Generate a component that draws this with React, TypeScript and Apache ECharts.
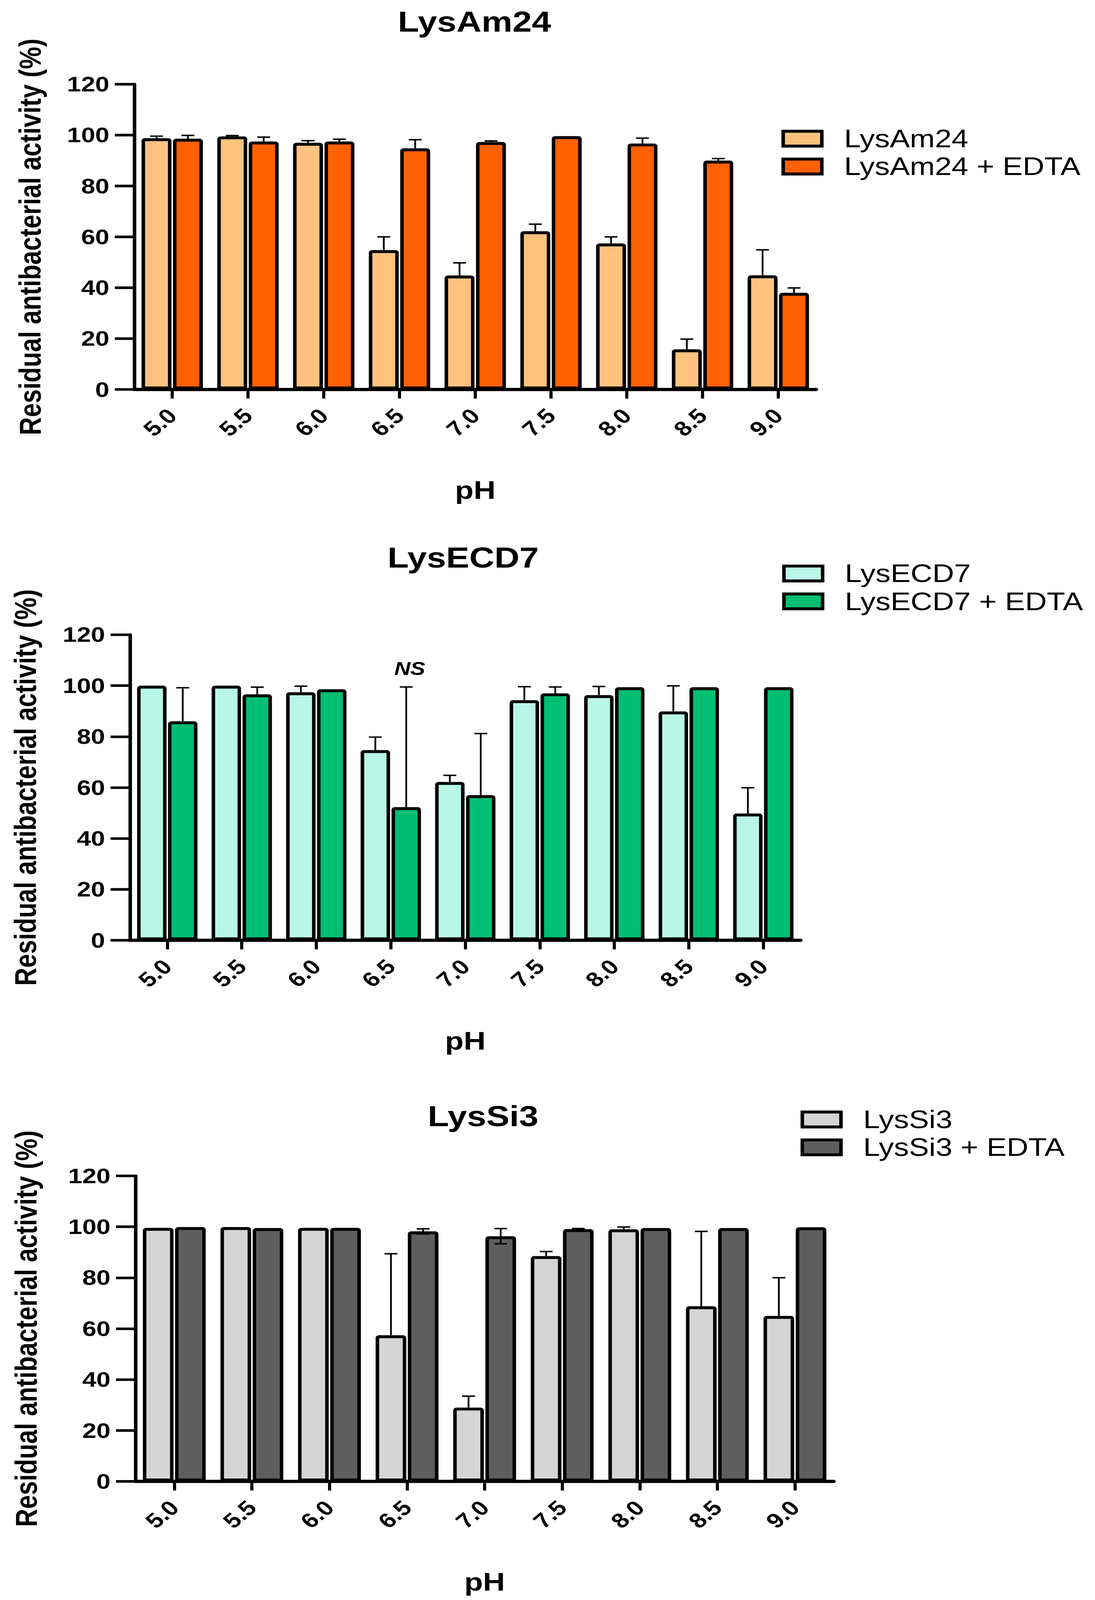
import React, { useEffect, useRef } from 'react';
import * as echarts from 'echarts';

// ---------- data ----------
const categories = ['5.0', '5.5', '6.0', '6.5', '7.0', '7.5', '8.0', '8.5', '9.0'];

const lysAm24 = [98.8, 99.5, 97.0, 54.8, 44.8, 62.2, 57.4, 15.8, 44.9];
const lysAm24Err = [0.8, 0.3, 0.8, 5.2, 5.0, 2.8, 2.6, 4.0, 10.0];
const lysAm24Edta = [98.6, 97.5, 97.5, 94.8, 97.3, 99.6, 96.7, 90.0, 38.0];
const lysAm24EdtaErr = [1.3, 1.7, 0.9, 3.4, 0.4, 0, 2.1, 0.8, 1.9];

const lysEcd7 = [100, 100, 97.4, 74.7, 62.2, 94.3, 96.3, 89.9, 49.8];
const lysEcd7Err = [0, 0, 2.4, 5.1, 2.6, 5.3, 3.4, 10.0, 10.1];
const lysEcd7Edta = [86.0, 96.6, 98.6, 52.3, 57.0, 97.0, 99.4, 99.4, 99.4];
const lysEcd7EdtaErr = [13.2, 2.8, 0, 47.2, 24.2, 2.5, 0, 0, 0];
const lysEcd7EdtaMarks = ['', '', '', 'NS', '', '', '', '', ''];

const lysSi3 = [99.6, 99.9, 99.6, 57.4, 29.0, 88.5, 99.0, 68.8, 65.0];
const lysSi3Err = [0, 0, 0, 32.0, 4.5, 1.8, 0.9, 29.4, 15.0];
const lysSi3Edta = [99.9, 99.5, 99.6, 98.2, 96.3, 99.1, 99.5, 99.5, 99.8];
const lysSi3EdtaErr = [0, 0, 0, 1.0, 3.0, 0.2, 0, 0, 0];

const noMarks = ['', '', '', '', '', '', '', '', ''];

const yAxisTitle = 'Residual antibacterial activity (%)';
const xAxisTitle = 'pH';

// ---------- styling / layout ----------
const PAGE_W = 2804;
const PAGE_H = 4938;
const FONT = '"Liberation Sans", Arial, Helvetica, sans-serif';
const BAR_W = 0.395; // fraction of band (outer width, border drawn inside)
const BAR_GAP = 0.05; // fraction of bar width
const BORDER = 9;
const ERR_W = 4.5;
const CAP = 33;

type Panel = {
  title: string;
  names: [string, string];
  colors: [string, string];
  values: [number[], number[]];
  errs: [number[], number[]];
  both: [boolean, boolean];
  marks: [string[], string[]];
  grid: { left: number; top: number; width: number; height: number };
  titleX: number;
  titleTop: number;
  legendLeft: number;
  legendTop: number;
  yNameGap: number;
};

const panels: Panel[] = [
  {
    title: 'LysAm24',
    names: ['LysAm24', 'LysAm24 + EDTA'],
    colors: ['#FFC27F', '#FF6000'],
    values: [lysAm24, lysAm24Edta],
    errs: [lysAm24Err, lysAm24EdtaErr],
    both: [false, false],
    marks: [noMarks, noMarks],
    grid: { left: 344, top: 260, width: 1746, height: 942 },
    titleX: 1215,
    titleTop: 22,
    legendLeft: 2001,
    legendTop: 388,
    yNameGap: 228,
  },
  {
    title: 'LysECD7',
    names: ['LysECD7', 'LysECD7 + EDTA'],
    colors: ['#B8F6E5', '#00BE72'],
    values: [lysEcd7, lysEcd7Edta],
    errs: [lysEcd7Err, lysEcd7EdtaErr],
    both: [false, false],
    marks: [noMarks, lysEcd7EdtaMarks],
    grid: { left: 333, top: 1959, width: 1717, height: 943 },
    titleX: 1186,
    titleTop: 1676,
    legendLeft: 2003,
    legendTop: 1730,
    yNameGap: 229,
  },
  {
    title: 'LysSi3',
    names: ['LysSi3', 'LysSi3 + EDTA'],
    colors: ['#D4D4D4', '#5E5E5E'],
    values: [lysSi3, lysSi3Edta],
    errs: [lysSi3Err, lysSi3EdtaErr],
    both: [false, true],
    marks: [noMarks, noMarks],
    grid: { left: 347, top: 3629, width: 1788, height: 943 },
    titleX: 1237,
    titleTop: 3400,
    legendLeft: 2050,
    legendTop: 3415,
    yNameGap: 241,
  },
];

function buildOption() {
  const grid: any[] = [];
  const xAxis: any[] = [];
  const yAxis: any[] = [];
  const title: any[] = [];
  const legend: any[] = [];
  const series: any[] = [];

  panels.forEach((p, pi) => {
    grid.push({ ...p.grid, containLabel: false });
    xAxis.push({
      type: 'category',
      gridIndex: pi,
      data: categories,
      name: xAxisTitle,
      nameLocation: 'middle',
      nameGap: 271,
      nameTextStyle: { fontFamily: FONT, fontSize: 78, fontWeight: 'bold', color: '#000' },
      axisLine: { lineStyle: { color: '#000', width: 10 } },
      axisTick: { show: true, alignWithLabel: true, length: 28, lineStyle: { color: '#000', width: 8 } },
      axisLabel: {
        rotate: 45,
        margin: 70,
        fontFamily: FONT,
        fontSize: 64,
        fontWeight: 'bold',
        color: '#000',
        interval: 0,
      },
      splitLine: { show: false },
    });
    yAxis.push({
      type: 'value',
      gridIndex: pi,
      min: 0,
      max: 120,
      interval: 20,
      name: yAxisTitle,
      nameLocation: 'middle',
      nameRotate: 90,
      nameGap: p.yNameGap,
      nameTextStyle: { fontFamily: FONT, fontSize: 77, fontWeight: 'bold', color: '#000' },
      axisLine: { show: true, lineStyle: { color: '#000', width: 9 } },
      axisTick: { show: true, length: 50, lineStyle: { color: '#000', width: 8 } },
      axisLabel: { margin: 64, fontFamily: FONT, fontSize: 65, fontWeight: 'bold', color: '#000' },
      splitLine: { show: false },
    });
    title.push({
      text: p.title,
      left: p.titleX,
      top: p.titleTop,
      textAlign: 'center',
      padding: 0,
      textStyle: { fontFamily: FONT, fontSize: 89, fontWeight: 'bold', color: '#000' },
    });
    legend.push({
      data: p.names,
      orient: 'vertical',
      left: p.legendLeft,
      top: p.legendTop,
      padding: 0,
      itemWidth: 99,
      itemHeight: 46,
      itemGap: 6,
      icon: 'rect',
      selectedMode: false,
      itemStyle: { borderColor: '#000', borderWidth: BORDER },
      textStyle: {
        fontFamily: FONT,
        fontSize: 77,
        color: '#000',
        lineHeight: 80,
        padding: [0, 0, 0, 52],
      },
    });

    [0, 1].forEach((s) => {
      series.push({
        type: 'bar',
        name: p.names[s],
        xAxisIndex: pi,
        yAxisIndex: pi,
        data: p.values[s],
        barWidth: (BAR_W * 100).toFixed(1) + '%',
        barGap: (BAR_GAP * 100).toFixed(0) + '%',
        itemStyle: {
          color: p.colors[s],
          borderColor: '#000',
          borderWidth: BORDER,
          borderRadius: [4, 4, 0, 0],
        },
        z: 2,
      });
    });
    [0, 1].forEach((s) => {
      const side = s === 0 ? -1 : 1;
      const vals = p.values[s];
      const errs = p.errs[s];
      const both = p.both[s];
      const marks = p.marks[s];
      series.push({
        type: 'custom',
        name: p.names[s] + ' error',
        xAxisIndex: pi,
        yAxisIndex: pi,
        z: 5,
        silent: true,
        encode: { x: 0, y: 1 },
        data: vals.map((v, i) => [i, v, errs[i]]),
        renderItem: (params: any, api: any) => {
          const idx = api.value(0);
          const v = api.value(1);
          const e = api.value(2);
          const band = api.size([1, 0])[0];
          const bw = band * BAR_W;
          const off = (side * (bw + bw * BAR_GAP)) / 2;
          const base = api.coord([idx, v]);
          const x = base[0] + off;
          const y0 = base[1];
          const children: any[] = [];
          const style = { stroke: '#000', lineWidth: ERR_W };
          let yTop = y0;
          if (e > 0) {
            yTop = api.coord([idx, v + e])[1];
            const yBot = both ? api.coord([idx, v - e])[1] : y0;
            children.push({ type: 'line', shape: { x1: x, y1: yBot, x2: x, y2: yTop }, style });
            children.push({ type: 'line', shape: { x1: x - CAP / 2, y1: yTop, x2: x + CAP / 2, y2: yTop }, style });
            if (both) {
              children.push({ type: 'line', shape: { x1: x - CAP / 2, y1: yBot, x2: x + CAP / 2, y2: yBot }, style });
            }
          }
          const m = marks[params.dataIndex];
          if (m) {
            children.push({
              type: 'text',
              style: {
                text: m,
                x: x + 9,
                y: yTop - 57,
                fill: '#000',
                font: 'italic bold 57px ' + FONT,
                align: 'center',
                verticalAlign: 'middle',
              },
            });
          }
          return { type: 'group', children };
        },
      });
    });
  });

  return {
    animation: false,
    backgroundColor: '#fff',
    textStyle: { fontFamily: FONT },
    grid,
    xAxis,
    yAxis,
    title,
    legend,
    series,
  };
}

export default function App() {
  const ref = useRef<HTMLDivElement>(null);
  useEffect(() => {
    document.body.style.margin = '0';
    const el = ref.current;
    if (!el) return;
    // The browser may give a viewport shorter than the requested page height;
    // squeeze the page vertically so the whole figure stays in view.
    const vh = window.innerHeight || PAGE_H;
    const s = Math.min(1, vh / PAGE_H);
    if (s < 1) {
      el.style.transformOrigin = '0 0';
      el.style.transform = `scale(1, ${s})`;
      document.body.style.overflow = 'hidden';
    }
    const chart = echarts.init(el, null, { renderer: 'svg' });
    chart.setOption(buildOption());
    return () => chart.dispose();
  }, []);
  return <div ref={ref} style={{ width: PAGE_W, height: PAGE_H, background: '#fff' }} />;
}
